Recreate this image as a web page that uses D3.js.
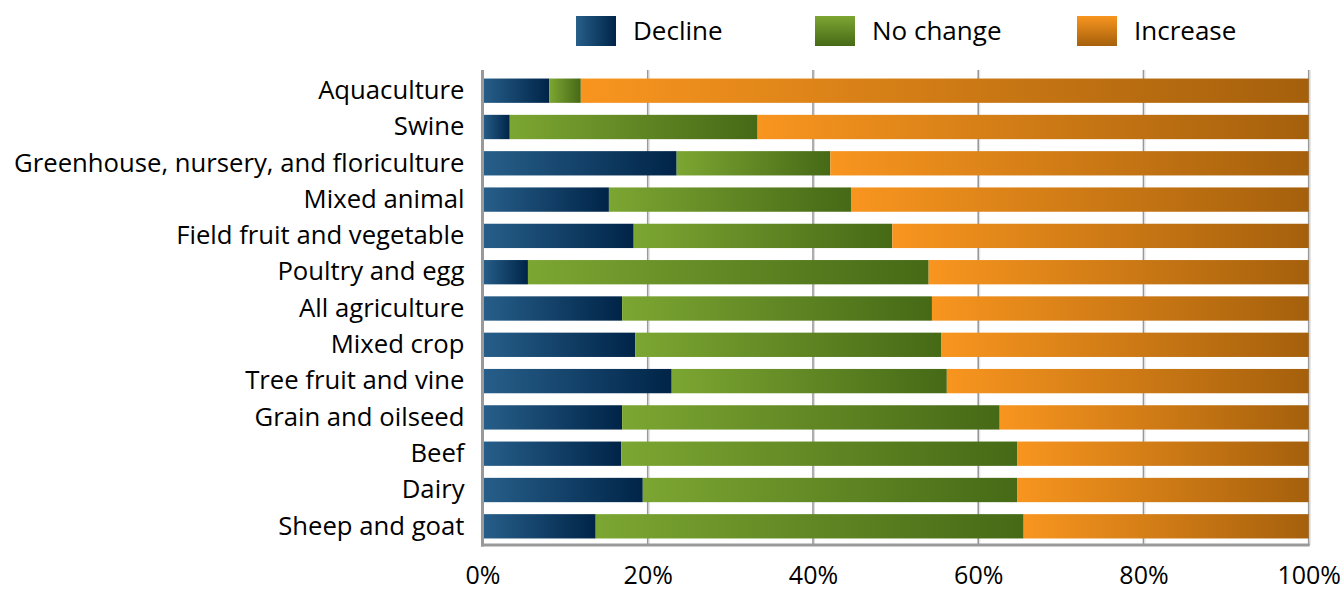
<!DOCTYPE html>
<html>
<head>
<meta charset="utf-8">
<script src="https://cdn.jsdelivr.net/npm/d3@7"></script>
<style>
  html, body { margin: 0; padding: 0; background: #fff; }
  svg { display: block; }
  text { font-family: "Open Sans", "Noto Sans", sans-serif; fill: #000; }
</style>
</head>
<body>
<svg id="chart" width="1344" height="591"></svg>
<script>
// ---- data (percent of operations) ----
const categories = [
  "Aquaculture", "Swine", "Greenhouse, nursery, and floriculture", "Mixed animal",
  "Field fruit and vegetable", "Poultry and egg", "All agriculture", "Mixed crop",
  "Tree fruit and vine", "Grain and oilseed", "Beef", "Dairy", "Sheep and goat"
];
const decline  = [8.1, 3.3, 23.5, 15.3, 18.3, 5.5, 16.9, 18.5, 22.9, 16.9, 16.8, 19.4, 13.7];
const noChange = [3.8, 30.0, 18.6, 29.3, 31.3, 48.5, 37.5, 37.0, 33.3, 45.7, 47.9, 45.3, 51.8];
const increase = [88.1, 66.7, 57.9, 55.4, 50.4, 46.0, 45.6, 44.5, 43.8, 37.4, 35.3, 35.3, 34.5];
const seriesNames = ["Decline", "No change", "Increase"];
const tickValues = [0, 20, 40, 60, 80, 100];

const palette = {
  "Decline":   ["#275f8a", "#002448"],
  "No change": ["#7ca632", "#466916"],
  "Increase":  ["#f8951f", "#a5600c"]
};

const svg = d3.select("#chart");
const margin = { left: 482.5, right: 1344 - 1308.7, top: 72, bottom: 591 - 545 };
const W = 1344, H = 591;

const x = d3.scaleLinear().domain([0, 100]).range([margin.left, W - margin.right]);
const y = d3.scaleBand().domain(categories).range([margin.top, H - margin.bottom])
  .paddingInner(0.33).paddingOuter(0.18);

const rows = categories.map((c, i) => ({ cat: c, "Decline": decline[i], "No change": noChange[i], "Increase": increase[i] }));
const stacked = d3.stack().keys(seriesNames)(rows);

const defs = svg.append("defs");
// legend gradients
seriesNames.forEach((s, k) => {
  const g = defs.append("linearGradient").attr("id", "leg" + k)
    .attr("x1", 0).attr("y1", 0)
    .attr("x2", k === 0 ? 1 : 0).attr("y2", k === 0 ? 0 : 1);
  g.append("stop").attr("offset", "0%").attr("stop-color", palette[s][0]);
  g.append("stop").attr("offset", "100%").attr("stop-color", palette[s][1]);
});
// bar gradients (horizontal, per segment)
seriesNames.forEach((s, k) => {
  const g = defs.append("linearGradient").attr("id", "bar" + k)
    .attr("x1", 0).attr("y1", 0).attr("x2", 1).attr("y2", 0);
  g.append("stop").attr("offset", "0%").attr("stop-color", palette[s][0]);
  g.append("stop").attr("offset", "100%").attr("stop-color", palette[s][1]);
});

// gridlines
const gridTop = 70, gridBottom = H - margin.bottom;
svg.append("g").selectAll("line").data(tickValues.slice(1)).join("line")
  .attr("x1", d => x(d)).attr("x2", d => x(d))
  .attr("y1", gridTop).attr("y2", gridBottom)
  .attr("stroke", "#999").attr("stroke-width", 1.6);
svg.append("g").selectAll("line").data(tickValues.slice(1)).join("line")
  .attr("x1", d => x(d) + 1.5).attr("x2", d => x(d) + 1.5)
  .attr("y1", gridTop).attr("y2", gridBottom)
  .attr("stroke", "#ddd").attr("stroke-width", 1);

// bars
stacked.forEach((layer, k) => {
  svg.append("g").selectAll("rect").data(layer).join("rect")
    .attr("x", d => x(d[0]))
    .attr("width", d => x(d[1]) - x(d[0]))
    .attr("y", d => y(d.data.cat))
    .attr("height", y.bandwidth())
    .attr("fill", "url(#bar" + k + ")");
});

// axes lines
svg.append("line").attr("x1", x(0)).attr("x2", x(0)).attr("y1", gridTop).attr("y2", gridBottom + 1.5)
  .attr("stroke", "#999").attr("stroke-width", 3);
svg.append("line").attr("x1", x(0) - 1.5).attr("x2", x(100) + 1).attr("y1", gridBottom).attr("y2", gridBottom)
  .attr("stroke", "#999").attr("stroke-width", 3);

// y axis labels
const yAxis = d3.axisLeft(y).tickSize(0).tickPadding(18);
const yg = svg.append("g").attr("transform", `translate(${x(0)},0)`).call(yAxis);
yg.select(".domain").remove();
yg.selectAll("text").style("font-size", "25.7px").style("font-family", '"Open Sans", sans-serif').attr("fill", "#000");

// x axis labels
const xAxis = d3.axisBottom(x).tickValues(tickValues).tickFormat(d => d + "%").tickSize(0).tickPadding(21);
const xg = svg.append("g").attr("transform", `translate(0,${gridBottom})`).call(xAxis);
xg.select(".domain").remove();
xg.selectAll("text").style("font-size", "25px").style("font-family", '"Open Sans", sans-serif').attr("fill", "#000");

// legend
const legendX = [576, 815, 1077];
const leg = svg.append("g");
seriesNames.forEach((s, k) => {
  leg.append("rect").attr("x", legendX[k]).attr("y", 16).attr("width", 40).attr("height", 30)
    .attr("fill", "url(#leg" + k + ")");
  leg.append("text").attr("x", legendX[k] + 57).attr("y", 40).text(s)
    .style("font-size", "26px");
});
</script>
</body>
</html>
